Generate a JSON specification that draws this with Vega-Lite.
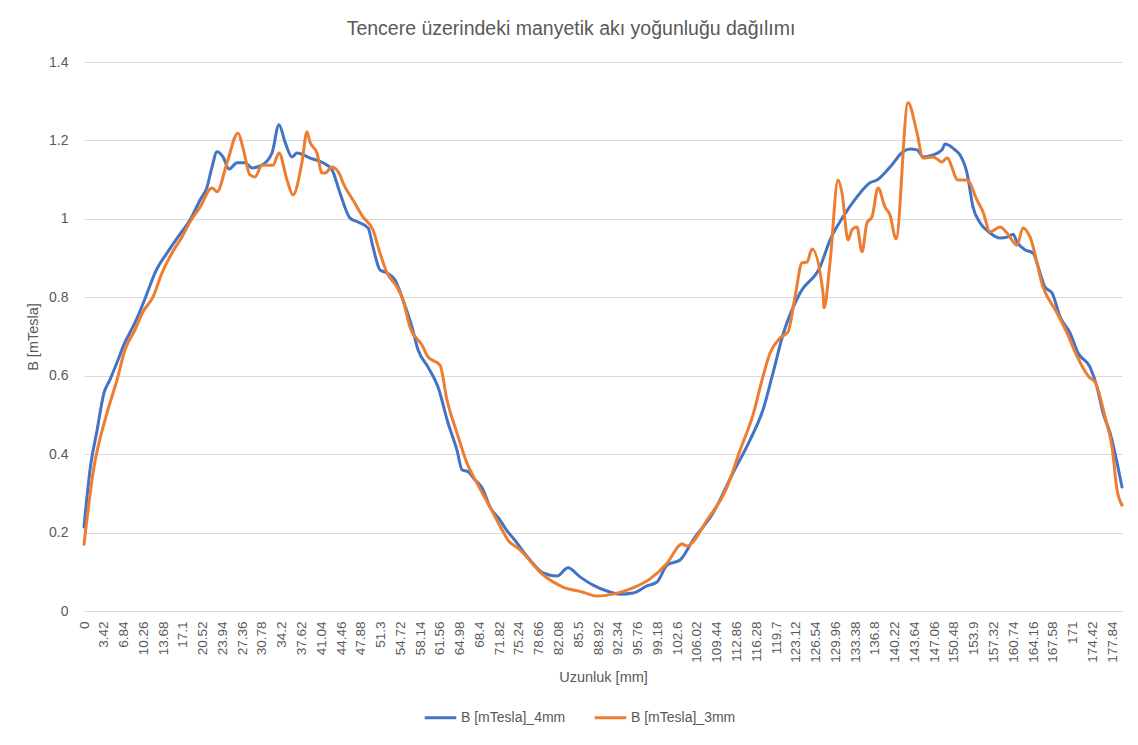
{
  "$schema": "https://vega.github.io/schema/vega-lite/v6.json",
  "width": 1038,
  "height": 549,
  "autosize": {"type": "none"},
  "padding": {"left": 84, "top": 62, "right": 16, "bottom": 134},
  "background": "#ffffff",
  "title": {"text": "Tencere üzerindeki manyetik akı yoğunluğu dağılımı", "font": "Liberation Sans", "fontSize": 19.5, "fontWeight": "normal", "color": "#595959", "offset": 16, "dx": -32},
  "config": {
    "view": {"stroke": null},
    "font": "Liberation Sans",
    "axis": {"labelFont": "Liberation Sans", "titleFont": "Liberation Sans", "labelColor": "#595959", "titleColor": "#595959", "labelFontSize": 13.5, "titleFontSize": 14.5, "titleFontWeight": "normal", "gridColor": "#d9d9d9", "domainColor": "#d9d9d9", "ticks": false},
    "legend": {"labelFont": "Liberation Sans", "labelColor": "#595959", "labelFontSize": 14}
  },
  "data": {"values": [
    {"x":0,"B":0.214,"s":"B [mTesla]_4mm"},{"x":1.04,"B":0.36,"s":"B [mTesla]_4mm"},{"x":2.25,"B":0.46,"s":"B [mTesla]_4mm"},{"x":3.46,"B":0.556,"s":"B [mTesla]_4mm"},{"x":4.5,"B":0.59,"s":"B [mTesla]_4mm"},{"x":5.88,"B":0.64,"s":"B [mTesla]_4mm"},{"x":6.92,"B":0.68,"s":"B [mTesla]_4mm"},{"x":8.65,"B":0.73,"s":"B [mTesla]_4mm"},{"x":10.38,"B":0.79,"s":"B [mTesla]_4mm"},{"x":11.42,"B":0.83,"s":"B [mTesla]_4mm"},{"x":12.28,"B":0.862,"s":"B [mTesla]_4mm"},{"x":14.36,"B":0.913,"s":"B [mTesla]_4mm"},{"x":16.26,"B":0.954,"s":"B [mTesla]_4mm"},{"x":18.34,"B":0.997,"s":"B [mTesla]_4mm"},{"x":20.07,"B":1.048,"s":"B [mTesla]_4mm"},{"x":21.28,"B":1.081,"s":"B [mTesla]_4mm"},{"x":22.14,"B":1.132,"s":"B [mTesla]_4mm"},{"x":23.01,"B":1.171,"s":"B [mTesla]_4mm"},{"x":24.04,"B":1.158,"s":"B [mTesla]_4mm"},{"x":25.08,"B":1.127,"s":"B [mTesla]_4mm"},{"x":26.47,"B":1.143,"s":"B [mTesla]_4mm"},{"x":27.85,"B":1.143,"s":"B [mTesla]_4mm"},{"x":29.06,"B":1.13,"s":"B [mTesla]_4mm"},{"x":30.79,"B":1.137,"s":"B [mTesla]_4mm"},{"x":32.52,"B":1.168,"s":"B [mTesla]_4mm"},{"x":33.73,"B":1.24,"s":"B [mTesla]_4mm"},{"x":34.77,"B":1.196,"s":"B [mTesla]_4mm"},{"x":35.98,"B":1.158,"s":"B [mTesla]_4mm"},{"x":36.84,"B":1.168,"s":"B [mTesla]_4mm"},{"x":39.09,"B":1.155,"s":"B [mTesla]_4mm"},{"x":41.34,"B":1.143,"s":"B [mTesla]_4mm"},{"x":42.9,"B":1.125,"s":"B [mTesla]_4mm"},{"x":44.28,"B":1.066,"s":"B [mTesla]_4mm"},{"x":46.01,"B":1.002,"s":"B [mTesla]_4mm"},{"x":47.4,"B":0.992,"s":"B [mTesla]_4mm"},{"x":49.13,"B":0.977,"s":"B [mTesla]_4mm"},{"x":49.99,"B":0.928,"s":"B [mTesla]_4mm"},{"x":51.2,"B":0.87,"s":"B [mTesla]_4mm"},{"x":52.41,"B":0.862,"s":"B [mTesla]_4mm"},{"x":53.8,"B":0.844,"s":"B [mTesla]_4mm"},{"x":55.18,"B":0.793,"s":"B [mTesla]_4mm"},{"x":56.74,"B":0.724,"s":"B [mTesla]_4mm"},{"x":57.78,"B":0.666,"s":"B [mTesla]_4mm"},{"x":59.51,"B":0.622,"s":"B [mTesla]_4mm"},{"x":61.24,"B":0.571,"s":"B [mTesla]_4mm"},{"x":62.96,"B":0.48,"s":"B [mTesla]_4mm"},{"x":64.52,"B":0.41,"s":"B [mTesla]_4mm"},{"x":65.39,"B":0.36,"s":"B [mTesla]_4mm"},{"x":66.42,"B":0.355,"s":"B [mTesla]_4mm"},{"x":67.64,"B":0.334,"s":"B [mTesla]_4mm"},{"x":68.85,"B":0.314,"s":"B [mTesla]_4mm"},{"x":70.23,"B":0.265,"s":"B [mTesla]_4mm"},{"x":71.96,"B":0.232,"s":"B [mTesla]_4mm"},{"x":73.34,"B":0.201,"s":"B [mTesla]_4mm"},{"x":74.21,"B":0.186,"s":"B [mTesla]_4mm"},{"x":77.15,"B":0.13,"s":"B [mTesla]_4mm"},{"x":79.4,"B":0.097,"s":"B [mTesla]_4mm"},{"x":81.82,"B":0.089,"s":"B [mTesla]_4mm"},{"x":83.72,"B":0.11,"s":"B [mTesla]_4mm"},{"x":85.8,"B":0.087,"s":"B [mTesla]_4mm"},{"x":88.05,"B":0.066,"s":"B [mTesla]_4mm"},{"x":90.47,"B":0.051,"s":"B [mTesla]_4mm"},{"x":92.72,"B":0.043,"s":"B [mTesla]_4mm"},{"x":94.97,"B":0.046,"s":"B [mTesla]_4mm"},{"x":97.39,"B":0.064,"s":"B [mTesla]_4mm"},{"x":99.12,"B":0.074,"s":"B [mTesla]_4mm"},{"x":100.85,"B":0.117,"s":"B [mTesla]_4mm"},{"x":103.1,"B":0.13,"s":"B [mTesla]_4mm"},{"x":105.35,"B":0.181,"s":"B [mTesla]_4mm"},{"x":108.81,"B":0.25,"s":"B [mTesla]_4mm"},{"x":112.26,"B":0.352,"s":"B [mTesla]_4mm"},{"x":115.2,"B":0.436,"s":"B [mTesla]_4mm"},{"x":117.45,"B":0.513,"s":"B [mTesla]_4mm"},{"x":119.18,"B":0.607,"s":"B [mTesla]_4mm"},{"x":120.91,"B":0.705,"s":"B [mTesla]_4mm"},{"x":123.85,"B":0.811,"s":"B [mTesla]_4mm"},{"x":127.31,"B":0.877,"s":"B [mTesla]_4mm"},{"x":129.04,"B":0.946,"s":"B [mTesla]_4mm"},{"x":131.29,"B":1.005,"s":"B [mTesla]_4mm"},{"x":133.71,"B":1.056,"s":"B [mTesla]_4mm"},{"x":135.96,"B":1.092,"s":"B [mTesla]_4mm"},{"x":137.17,"B":1.099,"s":"B [mTesla]_4mm"},{"x":139.42,"B":1.132,"s":"B [mTesla]_4mm"},{"x":141.67,"B":1.171,"s":"B [mTesla]_4mm"},{"x":142.88,"B":1.178,"s":"B [mTesla]_4mm"},{"x":144.09,"B":1.176,"s":"B [mTesla]_4mm"},{"x":145.13,"B":1.158,"s":"B [mTesla]_4mm"},{"x":146.86,"B":1.163,"s":"B [mTesla]_4mm"},{"x":148.42,"B":1.176,"s":"B [mTesla]_4mm"},{"x":148.94,"B":1.191,"s":"B [mTesla]_4mm"},{"x":150.67,"B":1.176,"s":"B [mTesla]_4mm"},{"x":151.53,"B":1.163,"s":"B [mTesla]_4mm"},{"x":152.74,"B":1.117,"s":"B [mTesla]_4mm"},{"x":153.78,"B":1.03,"s":"B [mTesla]_4mm"},{"x":154.99,"B":0.99,"s":"B [mTesla]_4mm"},{"x":156.72,"B":0.964,"s":"B [mTesla]_4mm"},{"x":158.45,"B":0.951,"s":"B [mTesla]_4mm"},{"x":159.83,"B":0.954,"s":"B [mTesla]_4mm"},{"x":160.7,"B":0.961,"s":"B [mTesla]_4mm"},{"x":161.39,"B":0.941,"s":"B [mTesla]_4mm"},{"x":162.77,"B":0.921,"s":"B [mTesla]_4mm"},{"x":164.16,"B":0.913,"s":"B [mTesla]_4mm"},{"x":165.37,"B":0.862,"s":"B [mTesla]_4mm"},{"x":166.23,"B":0.826,"s":"B [mTesla]_4mm"},{"x":167.45,"B":0.811,"s":"B [mTesla]_4mm"},{"x":168.83,"B":0.75,"s":"B [mTesla]_4mm"},{"x":170.56,"B":0.709,"s":"B [mTesla]_4mm"},{"x":171.94,"B":0.658,"s":"B [mTesla]_4mm"},{"x":174.02,"B":0.622,"s":"B [mTesla]_4mm"},{"x":175.23,"B":0.571,"s":"B [mTesla]_4mm"},{"x":176.27,"B":0.505,"s":"B [mTesla]_4mm"},{"x":177.48,"B":0.454,"s":"B [mTesla]_4mm"},{"x":179.55,"B":0.316,"s":"B [mTesla]_4mm"},
    {"x":0,"B":0.17,"s":"B [mTesla]_3mm"},{"x":1.56,"B":0.352,"s":"B [mTesla]_3mm"},{"x":3.98,"B":0.505,"s":"B [mTesla]_3mm"},{"x":5.71,"B":0.589,"s":"B [mTesla]_3mm"},{"x":7.09,"B":0.666,"s":"B [mTesla]_3mm"},{"x":8.82,"B":0.717,"s":"B [mTesla]_3mm"},{"x":10.21,"B":0.763,"s":"B [mTesla]_3mm"},{"x":11.94,"B":0.801,"s":"B [mTesla]_3mm"},{"x":13.49,"B":0.862,"s":"B [mTesla]_3mm"},{"x":15.22,"B":0.913,"s":"B [mTesla]_3mm"},{"x":16.95,"B":0.954,"s":"B [mTesla]_3mm"},{"x":18.34,"B":0.992,"s":"B [mTesla]_3mm"},{"x":20.07,"B":1.03,"s":"B [mTesla]_3mm"},{"x":22.14,"B":1.079,"s":"B [mTesla]_3mm"},{"x":23.01,"B":1.069,"s":"B [mTesla]_3mm"},{"x":24.74,"B":1.143,"s":"B [mTesla]_3mm"},{"x":26.64,"B":1.219,"s":"B [mTesla]_3mm"},{"x":27.5,"B":1.181,"s":"B [mTesla]_3mm"},{"x":28.71,"B":1.112,"s":"B [mTesla]_3mm"},{"x":29.58,"B":1.107,"s":"B [mTesla]_3mm"},{"x":30.79,"B":1.137,"s":"B [mTesla]_3mm"},{"x":32.69,"B":1.137,"s":"B [mTesla]_3mm"},{"x":33.73,"B":1.168,"s":"B [mTesla]_3mm"},{"x":35.12,"B":1.099,"s":"B [mTesla]_3mm"},{"x":36.15,"B":1.061,"s":"B [mTesla]_3mm"},{"x":37.71,"B":1.145,"s":"B [mTesla]_3mm"},{"x":38.57,"B":1.222,"s":"B [mTesla]_3mm"},{"x":39.09,"B":1.196,"s":"B [mTesla]_3mm"},{"x":40.3,"B":1.168,"s":"B [mTesla]_3mm"},{"x":41.17,"B":1.117,"s":"B [mTesla]_3mm"},{"x":41.69,"B":1.117,"s":"B [mTesla]_3mm"},{"x":42.9,"B":1.132,"s":"B [mTesla]_3mm"},{"x":44.28,"B":1.112,"s":"B [mTesla]_3mm"},{"x":44.8,"B":1.092,"s":"B [mTesla]_3mm"},{"x":46.53,"B":1.048,"s":"B [mTesla]_3mm"},{"x":48.26,"B":1.005,"s":"B [mTesla]_3mm"},{"x":49.99,"B":0.972,"s":"B [mTesla]_3mm"},{"x":51.2,"B":0.913,"s":"B [mTesla]_3mm"},{"x":52.41,"B":0.862,"s":"B [mTesla]_3mm"},{"x":54.14,"B":0.826,"s":"B [mTesla]_3mm"},{"x":55.18,"B":0.793,"s":"B [mTesla]_3mm"},{"x":56.39,"B":0.724,"s":"B [mTesla]_3mm"},{"x":58.47,"B":0.678,"s":"B [mTesla]_3mm"},{"x":59.51,"B":0.648,"s":"B [mTesla]_3mm"},{"x":61.58,"B":0.627,"s":"B [mTesla]_3mm"},{"x":62.79,"B":0.538,"s":"B [mTesla]_3mm"},{"x":64.52,"B":0.454,"s":"B [mTesla]_3mm"},{"x":66.25,"B":0.377,"s":"B [mTesla]_3mm"},{"x":67.98,"B":0.326,"s":"B [mTesla]_3mm"},{"x":70.23,"B":0.265,"s":"B [mTesla]_3mm"},{"x":72.31,"B":0.207,"s":"B [mTesla]_3mm"},{"x":73.34,"B":0.181,"s":"B [mTesla]_3mm"},{"x":75.42,"B":0.156,"s":"B [mTesla]_3mm"},{"x":79.4,"B":0.092,"s":"B [mTesla]_3mm"},{"x":82.86,"B":0.061,"s":"B [mTesla]_3mm"},{"x":86.32,"B":0.048,"s":"B [mTesla]_3mm"},{"x":88.74,"B":0.038,"s":"B [mTesla]_3mm"},{"x":91.51,"B":0.043,"s":"B [mTesla]_3mm"},{"x":94.97,"B":0.059,"s":"B [mTesla]_3mm"},{"x":97.91,"B":0.082,"s":"B [mTesla]_3mm"},{"x":100.85,"B":0.122,"s":"B [mTesla]_3mm"},{"x":103.44,"B":0.171,"s":"B [mTesla]_3mm"},{"x":104.31,"B":0.166,"s":"B [mTesla]_3mm"},{"x":107.77,"B":0.232,"s":"B [mTesla]_3mm"},{"x":111.23,"B":0.316,"s":"B [mTesla]_3mm"},{"x":113.48,"B":0.41,"s":"B [mTesla]_3mm"},{"x":115.72,"B":0.5,"s":"B [mTesla]_3mm"},{"x":117.28,"B":0.589,"s":"B [mTesla]_3mm"},{"x":118.67,"B":0.658,"s":"B [mTesla]_3mm"},{"x":120.39,"B":0.696,"s":"B [mTesla]_3mm"},{"x":121.78,"B":0.712,"s":"B [mTesla]_3mm"},{"x":122.99,"B":0.801,"s":"B [mTesla]_3mm"},{"x":124.2,"B":0.888,"s":"B [mTesla]_3mm"},{"x":125.06,"B":0.89,"s":"B [mTesla]_3mm"},{"x":125.93,"B":0.923,"s":"B [mTesla]_3mm"},{"x":127.83,"B":0.811,"s":"B [mTesla]_3mm"},{"x":128.01,"B":0.773,"s":"B [mTesla]_3mm"},{"x":129.04,"B":0.888,"s":"B [mTesla]_3mm"},{"x":130.43,"B":1.099,"s":"B [mTesla]_3mm"},{"x":131.12,"B":1.066,"s":"B [mTesla]_3mm"},{"x":132.16,"B":0.946,"s":"B [mTesla]_3mm"},{"x":132.85,"B":0.972,"s":"B [mTesla]_3mm"},{"x":133.71,"B":0.979,"s":"B [mTesla]_3mm"},{"x":134.58,"B":0.916,"s":"B [mTesla]_3mm"},{"x":135.44,"B":0.99,"s":"B [mTesla]_3mm"},{"x":136.31,"B":1.005,"s":"B [mTesla]_3mm"},{"x":137.35,"B":1.079,"s":"B [mTesla]_3mm"},{"x":138.56,"B":1.03,"s":"B [mTesla]_3mm"},{"x":139.42,"B":1.01,"s":"B [mTesla]_3mm"},{"x":140.46,"B":0.949,"s":"B [mTesla]_3mm"},{"x":142.54,"B":1.296,"s":"B [mTesla]_3mm"},{"x":144.09,"B":1.219,"s":"B [mTesla]_3mm"},{"x":145.13,"B":1.155,"s":"B [mTesla]_3mm"},{"x":146.86,"B":1.158,"s":"B [mTesla]_3mm"},{"x":148.42,"B":1.145,"s":"B [mTesla]_3mm"},{"x":149.28,"B":1.155,"s":"B [mTesla]_3mm"},{"x":151.18,"B":1.099,"s":"B [mTesla]_3mm"},{"x":152.74,"B":1.099,"s":"B [mTesla]_3mm"},{"x":154.47,"B":1.048,"s":"B [mTesla]_3mm"},{"x":155.51,"B":1.018,"s":"B [mTesla]_3mm"},{"x":156.72,"B":0.967,"s":"B [mTesla]_3mm"},{"x":158.45,"B":0.979,"s":"B [mTesla]_3mm"},{"x":159.66,"B":0.964,"s":"B [mTesla]_3mm"},{"x":161.39,"B":0.933,"s":"B [mTesla]_3mm"},{"x":162.43,"B":0.977,"s":"B [mTesla]_3mm"},{"x":163.64,"B":0.954,"s":"B [mTesla]_3mm"},{"x":165.89,"B":0.826,"s":"B [mTesla]_3mm"},{"x":168.31,"B":0.76,"s":"B [mTesla]_3mm"},{"x":170.04,"B":0.709,"s":"B [mTesla]_3mm"},{"x":171.42,"B":0.661,"s":"B [mTesla]_3mm"},{"x":174.02,"B":0.594,"s":"B [mTesla]_3mm"},{"x":174.88,"B":0.584,"s":"B [mTesla]_3mm"},{"x":176.62,"B":0.495,"s":"B [mTesla]_3mm"},{"x":177.83,"B":0.418,"s":"B [mTesla]_3mm"},{"x":178.69,"B":0.309,"s":"B [mTesla]_3mm"},{"x":179.55,"B":0.27,"s":"B [mTesla]_3mm"}
  ]},
  "mark": {"type": "line", "interpolate": "monotone", "strokeWidth": 3, "strokeCap": "round", "strokeJoin": "round"},
  "encoding": {
    "x": {"field": "x", "type": "quantitative", "title": "Uzunluk [mm]",
      "scale": {"domain": [0, 179.55], "nice": false},
      "axis": {"values": [0,3.42,6.84,10.26,13.68,17.1,20.52,23.94,27.36,30.78,34.2,37.62,41.04,44.46,47.88,51.3,54.72,58.14,61.56,64.98,68.4,71.82,75.24,78.66,82.08,85.5,88.92,92.34,95.76,99.18,102.6,106.02,109.44,112.86,116.28,119.7,123.12,126.54,129.96,133.38,136.8,140.22,143.64,147.06,150.48,153.9,157.32,160.74,164.16,167.58,171,174.42,177.84], "labelExpr": "'' + datum.value", "labelAngle": -90, "labelPadding": 10, "labelOverlap": false, "labelBound": false, "labelFlush": false, "grid": false, "titlePadding": 8}},
    "y": {"field": "B", "type": "quantitative", "title": "B [mTesla]",
      "scale": {"domain": [0, 1.4], "nice": false},
      "axis": {"values": [0,0.2,0.4,0.6,0.8,1,1.2,1.4], "labelExpr": "'' + datum.value", "labelFontSize": 14, "domain": false, "grid": true, "labelPadding": 16, "titlePadding": 8}},
    "color": {"field": "s", "type": "nominal",
      "scale": {"domain": ["B [mTesla]_4mm", "B [mTesla]_3mm"], "range": ["#4472C4", "#ED7D31"]},
      "legend": {"title": null, "orient": "none", "legendX": 339, "legendY": 638, "direction": "horizontal", "symbolType": "stroke", "symbolSize": 1000, "symbolStrokeWidth": 3, "columnPadding": 22, "labelOffset": 3, "padding": 0}}
  }
}
